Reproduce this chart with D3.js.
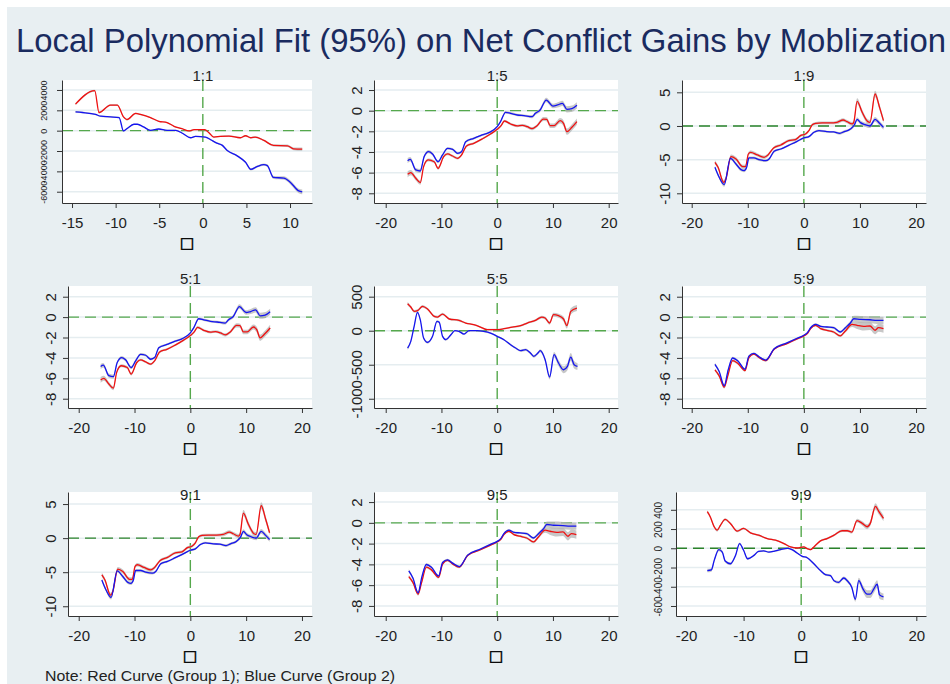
<!DOCTYPE html>
<html>
<head>
<meta charset="utf-8">
<script src="https://cdn.jsdelivr.net/npm/d3@7"></script>
<style>
  body { margin: 0; background: #fff; }
  text { font-family: "Liberation Sans", Arial, sans-serif; }
</style>
</head>
<body>
<svg id="chart" width="950" height="684"></svg>
<script>
// --- data: [x, fit, half width of 95% band] ---
var red11 = [[-14.6,2610,110],[-12.4,3930,100],[-11.9,1785,90],[-10.6,2510,90],[-9.8,2510,90],[-9.1,1355,80],[-8.7,1090,80],[-7.7,1690,70],[-7.15,1590,70],[-6.0,1290,60],[-5.05,925,60],[-4.1,795,60],[-3.3,430,60],[-2.4,200,60],[-1.6,-30,60],[-1.0,100,60],[0.2,100,60],[0.7,-200,60],[1.26,-630,70],[2.0,-560,70],[3.0,-530,70],[4.3,-695,70],[4.9,-500,70],[5.5,-695,80],[6.0,-630,80],[7.0,-960,90],[8.1,-1455,100],[9.7,-1490,120],[10.4,-1785,140],[11.4,-1820,160]];
var blue11 = [[-14.6,1850,80],[-13.8,1785,80],[-12.3,1590,70],[-11.7,1420,70],[-10.6,1355,70],[-9.6,1290,70],[-9.1,-30,70],[-8.7,200,70],[-7.9,630,60],[-7.5,630,60],[-6.8,365,60],[-6.0,30,60],[-5.05,165,60],[-4.1,30,60],[-3.1,30,60],[-2.4,-230,60],[-1.4,-695,60],[-0.84,-560,60],[0.3,-630,60],[0.9,-890,70],[1.6,-1220,70],[2.2,-1420,80],[2.8,-1950,80],[3.9,-2450,90],[4.9,-3110,100],[5.5,-3800,110],[6.2,-3540,110],[7.0,-3340,120],[7.4,-3440,130],[8.1,-4600,150],[9.3,-4660,170],[10.05,-5090,190],[11.0,-5920,220],[11.4,-6020,240]];

var red15 = [[-16.07,-6.16,.3],[-15.5,-6.0,.25],[-14.6,-6.55,.2],[-13.8,-6.97,.2],[-13.2,-5.42,.15],[-12.4,-4.77,.15],[-11.3,-4.94,.15],[-10.6,-5.58,.15],[-9.6,-4.45,.15],[-8.9,-4.19,.12],[-8.0,-4.39,.12],[-7.1,-4.61,.12],[-6.4,-4.29,.12],[-5.5,-3.42,.12],[-4.2,-3.16,.1],[-2.7,-2.74,.1],[-1.2,-2.26,.1],[0,-1.81,.1],[0.7,-1.45,.12],[1.3,-1.0,.12],[2.4,-1.29,.12],[3.6,-1.48,.12],[4.5,-1.42,.12],[5.4,-1.55,.15],[6.25,-1.74,.15],[7.1,-1.48,.15],[8.3,-0.81,.2],[8.9,-0.84,.2],[9.5,-1.45,.22],[10.2,-1.45,.22],[11.3,-0.97,.25],[11.9,-1.23,.28],[12.5,-2.03,.3],[13.4,-1.61,.3],[14.3,-1.06,.3]];
var blue15 = [[-16.07,-4.84,.25],[-15.6,-4.71,.22],[-14.6,-5.74,.2],[-13.8,-5.84,.2],[-13.1,-4.45,.15],[-12.3,-3.97,.15],[-11.6,-4.19,.15],[-10.6,-4.94,.15],[-9.8,-4.29,.15],[-8.9,-3.65,.12],[-8.0,-3.74,.12],[-7.1,-4.13,.12],[-6.4,-3.97,.12],[-5.65,-3.0,.12],[-4.2,-2.68,.1],[-2.7,-2.35,.1],[-1.5,-2.13,.1],[0,-1.55,.1],[0.6,-1.06,.12],[1.5,-0.16,.12],[2.4,-0.26,.12],[3.6,-0.42,.12],[4.8,-0.48,.12],[6.25,-0.58,.15],[6.85,-0.26,.15],[7.7,0.06,.18],[8.8,1.03,.22],[10.0,0.45,.22],[10.8,0.55,.25],[11.7,0.71,.25],[12.5,0.13,.3],[13.4,0.19,.3],[14.3,0.52,.3]];

var red19 = [[-15.86,-5.4,.3],[-15.3,-6.14,.3],[-14.3,-8.37,.35],[-13.9,-7.87,.35],[-13.0,-4.55,.3],[-12.1,-4.9,.3],[-10.9,-6.04,.3],[-10.4,-6.04,.3],[-9.9,-4.16,.25],[-9.5,-3.91,.25],[-8.3,-4.3,.25],[-7.1,-4.65,.25],[-6.5,-4.4,.25],[-5.4,-3.27,.2],[-4.1,-2.82,.2],[-2.7,-2.18,.2],[-1.5,-2.03,.2],[-0.6,-1.44,.2],[0.3,-1.19,.2],[0.9,-0.69,.2],[1.5,0.2,.2],[2.1,0.4,.2],[3.25,0.45,.2],[4.7,0.45,.2],[5.9,0.54,.25],[7.0,0.89,.25],[7.7,0.64,.25],[8.6,0.3,.3],[8.9,0.54,.3],[9.5,3.66,.45],[10.4,2.03,.4],[11.4,0.64,.35],[11.8,0.54,.35],[12.7,4.75,.5],[13.5,2.77,.45],[14.2,0.79,.4]];
var blue19 = [[-15.86,-6.14,.25],[-15.1,-7.62,.25],[-14.2,-8.71,.3],[-13.1,-4.8,.25],[-12.1,-5.64,.25],[-11.2,-6.49,.25],[-10.65,-6.63,.25],[-10.2,-6.14,.25],[-9.8,-4.75,.2],[-8.9,-4.75,.2],[-8.0,-5.0,.2],[-6.8,-5.15,.2],[-6.2,-4.9,.2],[-5.3,-3.76,.2],[-4.1,-3.42,.15],[-2.7,-2.87,.15],[-1.2,-2.28,.15],[0,-1.78,.15],[0.9,-1.58,.15],[1.8,-0.94,.15],[2.7,-0.69,.15],[4.1,-0.84,.15],[5.3,-0.89,.15],[6.4,-1.09,.2],[7.2,-0.84,.2],[8.3,-0.45,.2],[9.0,0.15,.25],[9.5,0.99,.3],[10.1,0.5,.3],[10.9,0.2,.3],[11.8,0,.3],[12.7,0.99,.35],[13.5,0.4,.35],[14.2,-0.2,.35]];

var red55 = [[-16.07,397,25],[-15.5,348,22],[-14.9,284,20],[-14.2,299,20],[-13.4,358,20],[-12.5,319,18],[-11.3,211,18],[-10.7,201,18],[-9.8,245,18],[-8.6,172,15],[-6.85,152,15],[-5.65,113,12],[-4.2,88,12],[-3.0,54,12],[-1.8,15,12],[0,15,12],[1.2,29,12],[2.7,54,12],[4.2,74,15],[5.4,113,15],[6.85,152,18],[8.0,201,20],[8.6,186,22],[9.4,113,25],[10.1,235,30],[11.0,221,30],[11.9,172,35],[12.5,74,40],[13.2,284,45],[14.3,333,45]];
var blue55 = [[-16.07,-255,25],[-15.5,-157,22],[-14.9,64,20],[-14.3,270,20],[-13.8,162,20],[-13.2,-108,18],[-12.5,-172,18],[-11.6,-83,18],[-10.8,137,18],[-10.4,123,18],[-9.8,-83,15],[-9.2,-132,15],[-8.3,-59,15],[-7.6,0,12],[-6.85,-10,12],[-5.95,-49,12],[-5.05,0,12],[-3.6,0,12],[-2.4,-10,12],[-1.2,-34,12],[0,-83,12],[1.2,-132,12],[2.4,-206,15],[3.3,-255,15],[4.2,-294,15],[5.1,-279,18],[5.95,-328,18],[6.55,-377,20],[7.3,-328,20],[7.7,-294,22],[8.6,-426,30],[9.4,-681,35],[10.2,-353,40],[11.0,-475,45],[11.9,-574,50],[12.6,-525,55],[13.2,-387,60],[13.8,-500,55],[14.4,-525,50]];

var red59 = [[-15.86,-5.18,.15],[-15.1,-5.76,.15],[-14.2,-6.86,.15],[-13.6,-5.83,.12],[-12.7,-4.27,.12],[-11.8,-4.53,.12],[-10.5,-5.24,.12],[-9.8,-3.98,.1],[-8.9,-3.62,.1],[-8.0,-3.95,.1],[-6.8,-4.27,.1],[-5.3,-3.14,.08],[-3.0,-2.59,.08],[-1.2,-2.14,.08],[0,-1.84,.08],[0.6,-1.62,.08],[1.2,-1.13,.08],[2.1,-0.81,.1],[3.0,-1.13,.1],[4.1,-1.29,.1],[5.3,-1.46,.12],[6.5,-1.84,.12],[7.4,-1.36,.15],[8.6,-0.71,.25],[9.5,-0.81,.35],[10.7,-0.91,.4],[11.8,-0.87,.4],[12.7,-1.29,.4],[13.3,-1.04,.4],[14.2,-1.13,.4]];
var blue59 = [[-15.86,-4.63,.15],[-15.1,-5.34,.15],[-14.2,-6.73,.15],[-13.5,-5.18,.12],[-12.7,-4.01,.12],[-11.8,-4.27,.12],[-10.5,-5.11,.12],[-9.8,-3.82,.1],[-8.9,-3.56,.1],[-8.0,-3.88,.1],[-6.8,-4.21,.1],[-5.3,-3.11,.08],[-3.0,-2.52,.08],[-1.2,-2.07,.08],[0,-1.78,.08],[0.6,-1.55,.08],[1.2,-1.04,.08],[2.1,-0.71,.1],[3.0,-0.91,.1],[4.1,-0.97,.1],[5.3,-1.04,.12],[6.5,-1.46,.12],[7.4,-1.04,.15],[8.3,-0.58,.2],[8.9,-0.16,.3],[10.1,-0.23,.35],[11.8,-0.26,.35],[13.0,-0.32,.35],[14.2,-0.32,.35]];

var red99 = [[-16.3,380,15],[-15.8,328,15],[-15.1,223,15],[-14.6,188,15],[-14.0,241,15],[-13.2,300,12],[-12.3,258,12],[-11.1,178,12],[-10.0,206,10],[-8.8,160,10],[-7.4,136,10],[-5.9,101,8],[-4.45,84,8],[-3.0,49,8],[-1.85,14,8],[-0.7,3,8],[0.46,14,8],[1.04,-3,8],[1.6,-14,8],[2.5,31,8],[3.35,77,10],[4.5,101,10],[5.7,136,10],[7.1,182,12],[8.0,182,12],[8.8,168,15],[9.7,288,20],[10.6,259,22],[11.45,224,25],[12.0,259,28],[12.9,435,32],[13.5,382,32],[14.3,312,32]];
var blue99 = [[-16.3,-232,18],[-15.6,-225,18],[-15.1,-126,18],[-14.3,-14,18],[-13.7,-39,15],[-13.2,-133,15],[-12.3,-161,15],[-11.4,-74,15],[-10.7,49,12],[-10.0,-21,12],[-9.3,-109,12],[-8.2,-74,10],[-7.4,-32,10],[-6.5,-28,8],[-5.6,-39,8],[-4.75,-32,8],[-3.6,-14,8],[-2.4,0,8],[-1.6,-14,8],[-0.7,-49,8],[0.17,-84,8],[1.04,-98,8],[2.2,-161,10],[3.35,-232,10],[4.2,-274,12],[5.1,-284,12],[5.7,-337,12],[6.5,-354,15],[7.4,-309,15],[8.0,-337,18],[8.8,-407,20],[9.4,-530,25],[10.0,-337,30],[10.75,-425,35],[11.45,-477,40],[12.0,-477,40],[12.6,-425,40],[13.2,-372,40],[13.6,-484,40],[14.3,-505,35]];

// tick labels
var xTicks15 = [-15, -10, -5, 0, 5, 10];
var xTicks20 = [-20, -10, 0, 10, 20];
var yTicks11 = [-6000, -4000, -2000, 0, 2000, 4000];
var yTicks8 = [-8, -6, -4, -2, 0, 2];
var yTicks10 = [-10, -5, 0, 5];
var yTicks55 = [-1000, -500, 0, 500];
var yTicks99 = [-600, -400, -200, 0, 200, 400];

var panelTitles = ["1:1", "1:5", "1:9", "5:1", "5:5", "5:9", "9:1", "9:5", "9:9"];
var panelRed = [red11, red15, red19, red15, red55, red59, red19, red59, red99];
var panelBlue = [blue11, blue15, blue19, blue15, blue55, blue59, blue19, blue59, blue99];
var panelXTicks = [xTicks15, xTicks20, xTicks20, xTicks20, xTicks20, xTicks20, xTicks20, xTicks20, xTicks20];
var panelYTicks = [yTicks11, yTicks8, yTicks10, yTicks8, yTicks55, yTicks8, yTicks10, yTicks8, yTicks99];

var title = "Local Polynomial Fit (95%) on Net Conflict Gains by Moblization";
var note = "Note: Red Curve (Group 1); Blue Curve (Group 2)";
var xLabel = "\u25A1";

// --- layout (pixels) ---
var layout = [
  {L: 62,  R: 312, T: 80,  B: 203, ty: 81,  xd: [-16.15, 12.52], yd: [-7110, 4980], fs: 9,  off: 15,   hc: "#55a84c"},
  {L: 374, R: 618, T: 80,  B: 203, ty: 81,  xd: [-22.1, 21.67],  yd: [-8.94, 2.97], fs: 15, off: 12.5, hc: "#55a84c"},
  {L: 682, R: 926, T: 80,  B: 203, ty: 81,  xd: [-21.73, 21.78], yd: [-11.44, 6.83], fs: 15, off: 12.5, hc: "#2a822a"},
  {L: 68,  R: 312, T: 286, B: 408, ty: 284, xd: [-21.92, 21.8],  yd: [-8.91, 3.05], fs: 15, off: 12.5, hc: "#55a84c"},
  {L: 374, R: 618, T: 286, B: 408, ty: 284, xd: [-22.1, 21.67],  yd: [-1136, 657],  fs: 15, off: 12.5, hc: "#55a84c"},
  {L: 682, R: 926, T: 286, B: 408, ty: 284, xd: [-21.73, 21.78], yd: [-8.91, 3.05], fs: 15, off: 12.5, hc: "#55a84c"},
  {L: 68,  R: 312, T: 492, B: 616, ty: 500, xd: [-21.92, 21.8],  yd: [-11.43, 6.77], fs: 15, off: 12.5, hc: "#2a822a"},
  {L: 374, R: 618, T: 492, B: 616, ty: 500, xd: [-22.1, 21.67],  yd: [-8.97, 2.97], fs: 15, off: 12.5, hc: "#55a84c"},
  {L: 676, R: 926, T: 492, B: 616, ty: 500, xd: [-21.74, 21.68], yd: [-704, 585],   fs: 10, off: 13.7, hc: "#2a822a"}
];

// plain labels, ASCII hyphen, no thousands separator
function plain(d) { return String(d); }

var svg = d3.select("#chart");

svg.append("rect").attr("width", 950).attr("height", 684).attr("fill", "#fff");
svg.append("rect").attr("x", 7).attr("y", 7).attr("width", 943).attr("height", 677).attr("fill", "#e8eff2");

svg.append("text")
    .attr("x", 16).attr("y", 52)
    .attr("font-size", 33)
    .attr("fill", "#1a2b5f")
    .attr("textLength", 930)
    .attr("lengthAdjust", "spacingAndGlyphs")
    .text(title);

svg.append("text")
    .attr("x", 45).attr("y", 681)
    .attr("font-size", 15.5)
    .attr("fill", "#222")
    .attr("textLength", 350)
    .attr("lengthAdjust", "spacingAndGlyphs")
    .text(note);

layout.forEach(function(p, i) {
  var x = d3.scaleLinear().domain(p.xd).range([p.L, p.R]);
  var y = d3.scaleLinear().domain(p.yd).range([p.B, p.T]);
  var g = svg.append("g");

  g.append("rect")
      .attr("x", p.L).attr("y", p.T)
      .attr("width", p.R - p.L).attr("height", p.B - p.T)
      .attr("fill", "#fff");

  // gridlines
  g.selectAll("line.grid")
    .data(panelYTicks[i])
    .enter().append("line")
      .attr("class", "grid")
      .attr("x1", p.L).attr("x2", p.R)
      .attr("y1", function(d) { return y(d); })
      .attr("y2", function(d) { return y(d); })
      .attr("stroke", "#e5edf0")
      .attr("stroke-width", 1.5);

  // reference lines
  g.append("line")
      .attr("x1", p.L).attr("x2", p.R)
      .attr("y1", y(0)).attr("y2", y(0))
      .attr("stroke", p.hc).attr("stroke-width", 1.4)
      .attr("stroke-dasharray", "11,6");
  g.append("line")
      .attr("x1", x(0)).attr("x2", x(0))
      .attr("y1", p.T).attr("y2", p.B)
      .attr("stroke", "#55a84c").attr("stroke-width", 1.4)
      .attr("stroke-dasharray", "11,6");

  var band = d3.area()
      .x(function(d) { return x(d[0]); })
      .y0(function(d) { return y(d[1] - d[2]); })
      .y1(function(d) { return y(d[1] + d[2]); })
      .curve(d3.curveMonotoneX);
  var line = d3.line()
      .x(function(d) { return x(d[0]); })
      .y(function(d) { return y(d[1]); })
      .curve(d3.curveMonotoneX);

  [panelRed[i], panelBlue[i]].forEach(function(s) {
    g.append("path").attr("d", band(s)).attr("fill", "#b4b4b4").attr("fill-opacity", 0.75);
  });
  g.append("path").attr("d", line(panelRed[i]))
      .attr("fill", "none").attr("stroke", "#f01010").attr("stroke-width", 1.3);
  g.append("path").attr("d", line(panelBlue[i]))
      .attr("fill", "none").attr("stroke", "#1414f0").attr("stroke-width", 1.3);

  // axes
  var xa = g.append("g")
      .attr("transform", "translate(0," + p.B + ")")
      .call(d3.axisBottom(x).tickValues(panelXTicks[i]).tickFormat(plain)
        .tickSize(5).tickSizeOuter(0).tickPadding(9));
  var ya = g.append("g")
      .attr("transform", "translate(" + p.L + ",0)")
      .call(d3.axisLeft(y).tickValues(panelYTicks[i]).tickFormat(plain)
        .tickSize(5).tickSizeOuter(0));

  [xa, ya].forEach(function(a) {
    a.attr("font-family", null);
    a.select(".domain").attr("stroke", "#333");
    a.selectAll(".tick line").attr("stroke", "#333");
    a.selectAll("text").attr("fill", "#222");
  });
  xa.selectAll("text").attr("font-size", 15);
  ya.selectAll("text")
      .attr("x", null).attr("dy", null)
      .attr("text-anchor", "middle")
      .attr("font-size", p.fs)
      .attr("transform", "translate(" + (-p.off) + ",0) rotate(-90)");

  g.append("text")
      .attr("x", x(0)).attr("y", p.ty)
      .attr("text-anchor", "middle")
      .attr("font-size", 15)
      .attr("fill", "#222")
      .text(panelTitles[i]);

  // x title is an unrendered glyph in the original: an empty box
  g.append("text")
      .attr("x", (p.L + p.R) / 2).attr("y", p.B + 45)
      .attr("text-anchor", "middle")
      .attr("font-size", 15)
      .attr("fill", "#000")
      .attr("stroke", "#000")
      .attr("stroke-width", 0.5)
      .style("font-family", "'DejaVu Sans'")
      .text(xLabel);
});
</script>
</body>
</html>
